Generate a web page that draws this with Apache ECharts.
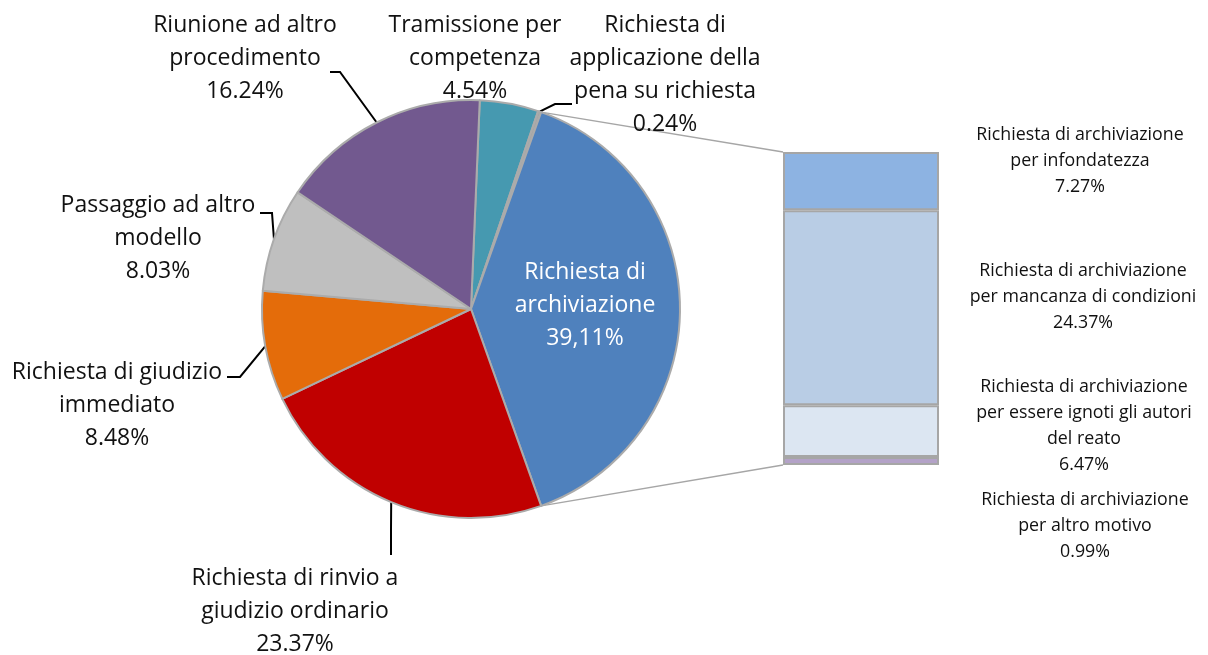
<!DOCTYPE html>
<html>
<head>
<meta charset="utf-8">
<script src="https://cdn.jsdelivr.net/npm/echarts@6/dist/echarts.min.js"></script>
<style>
  html, body { margin: 0; padding: 0; background: #fff; }
  #chart { width: 1208px; height: 655px; }
</style>
</head>
<body>
<div id="chart"></div>
<script>
// Esiti dei procedimenti: torta principale, con la quota "archiviazione" scomposta nella barra a destra
const sliceNames = [
  'Tramissione per\ncompetenza',
  'Richiesta di\napplicazione della\npena su richiesta',
  'Richiesta di\narchiviazione',
  'Richiesta di rinvio a\ngiudizio ordinario',
  'Richiesta di giudizio\nimmediato',
  'Passaggio ad altro\nmodello',
  'Riunione ad altro\nprocedimento'
];
const sliceValues = [4.54, 0.24, 39.11, 23.37, 8.48, 8.03, 16.24];
const sliceColors = ['#4699B0', '#A5A5A5', '#4F81BD', '#C00000', '#E46C0A', '#BFBFBF', '#72598F'];
const splitSlice = 2; // slice broken down in the bar

const splitNames = [
  'Richiesta di archiviazione\nper infondatezza',
  'Richiesta di archiviazione\nper mancanza di condizioni',
  'Richiesta di archiviazione\nper essere ignoti gli autori\ndel reato',
  'Richiesta di archiviazione\nper altro motivo'
];
const splitValues = [7.27, 24.37, 6.47, 0.99];
const splitColors = ['#8DB3E2', '#B9CDE5', '#DCE6F2', '#B3A2C7'];

// layout
const PIE = { cx: 471, cy: 309, r: 209, startAngle: 87.6 };
const BAR = { left: 783, top: 152, width: 156, height: 313 };
const FONT = '"Open Sans", "Noto Sans", sans-serif';
const TEXT = '#111111';

const pieLabelSpots = [
  { x: 475, y: 58, bend: null },
  { x: 665, y: 75, bend: [[555, 104], [572, 104]] },
  { x: 585, y: 305, bend: null },
  { x: 295, y: 611, bend: [[391, 530], [391, 555]] },
  { x: 117, y: 405, bend: [[240, 377], [227, 377]] },
  { x: 158, y: 238, bend: [[272, 213], [260, 213]] },
  { x: 245, y: 58, bend: [[340, 72], [330, 72]] }
];
const barLabelSpots = [
  { x: 1080, y: 161 },
  { x: 1083, y: 297 },
  { x: 1084, y: 426 },
  { x: 1085, y: 526 }
];

const pieTotal = sliceValues.reduce((a, b) => a + b, 0);
const splitTotal = splitValues.reduce((a, b) => a + b, 0);

// angle measured clockwise from 12 o'clock, in degrees
function pieAngleAt(share) {
  return (90 - PIE.startAngle) + 360 * share / pieTotal;
}
function piePoint(deg) {
  const a = deg * Math.PI / 180;
  return [PIE.cx + PIE.r * Math.sin(a), PIE.cy - PIE.r * Math.cos(a)];
}
function sliceMid(i) {
  let before = 0;
  for (let k = 0; k < i; k++) before += sliceValues[k];
  return pieAngleAt(before + sliceValues[i] / 2);
}

const pieData = sliceNames.map((name, i) => {
  const item = {
    name: name,
    value: sliceValues[i],
    itemStyle: { color: sliceColors[i] }
  };
  if (!pieLabelSpots[i].bend) item.labelLine = { show: false };
  if (i === splitSlice) item.label = { color: '#ffffff' };
  return item;
});

const chart = echarts.init(document.getElementById('chart'));

const barSeries = splitNames.map((name, i) => ({
  type: 'bar',
  name: name,
  stack: 'split',
  barWidth: '100%',
  data: [splitValues[i]],
  itemStyle: { color: splitColors[i], borderColor: '#A6A6A6', borderWidth: 2 },
  label: {
    show: true,
    position: 'inside',
    fontFamily: FONT,
    fontSize: 17.8,
    lineHeight: 26,
    color: TEXT,
    align: 'center',
    formatter: () => name + '\n' + splitValues[i].toFixed(2) + '%'
  },
  labelLayout: () => ({
    x: barLabelSpots[i].x,
    y: barLabelSpots[i].y,
    align: 'center',
    verticalAlign: 'middle'
  }),
  silent: true,
  animation: false
}));

chart.setOption({
  backgroundColor: '#ffffff',
  animation: false,
  grid: { left: BAR.left, top: BAR.top, width: BAR.width, height: BAR.height },
  xAxis: { type: 'category', data: [''], show: false },
  yAxis: { type: 'value', min: 0, max: splitTotal, inverse: true, show: false },
  series: [
    {
      type: 'pie',
      center: [PIE.cx, PIE.cy],
      radius: PIE.r,
      startAngle: PIE.startAngle,
      clockwise: true,
      avoidLabelOverlap: false,
      silent: true,
      data: pieData,
      itemStyle: { borderColor: '#ABABAB', borderWidth: 2 },
      label: {
        show: true,
        position: 'outside',
        fontFamily: FONT,
        fontSize: 23,
        lineHeight: 33,
        color: TEXT,
        align: 'center',
        formatter: (p) => {
          const v = p.value.toFixed(2);
          return p.name + '\n' + (p.dataIndex === splitSlice ? v.replace('.', ',') : v) + '%';
        }
      },
      labelLine: { show: true, lineStyle: { color: '#000000', width: 2 } },
      labelLayout: (params) => {
        const i = params.dataIndex;
        const spot = pieLabelSpots[i];
        const out = { x: spot.x, y: spot.y, align: 'center', verticalAlign: 'middle' };
        if (spot.bend) out.labelLinePoints = [piePoint(sliceMid(i))].concat(spot.bend);
        return out;
      }
    }
  ].concat(barSeries)
});

// connector lines between the split slice and the bar
let before = 0;
for (let k = 0; k < splitSlice; k++) before += sliceValues[k];
const pTop = piePoint(pieAngleAt(before));
const pBottom = piePoint(pieAngleAt(before + sliceValues[splitSlice]));
const barTop = chart.convertToPixel({ xAxisIndex: 0, yAxisIndex: 0 }, [0, 0]);
const barBottom = chart.convertToPixel({ xAxisIndex: 0, yAxisIndex: 0 }, [0, splitTotal]);
const lineStyle = { stroke: '#A6A6A6', lineWidth: 1.5 };
chart.setOption({
  graphic: [
    { type: 'line', z: 0, silent: true, shape: { x1: pTop[0], y1: pTop[1], x2: BAR.left, y2: barTop[1] }, style: lineStyle },
    { type: 'line', z: 0, silent: true, shape: { x1: pBottom[0], y1: pBottom[1], x2: BAR.left, y2: barBottom[1] }, style: lineStyle }
  ]
});
</script>
</body>
</html>
